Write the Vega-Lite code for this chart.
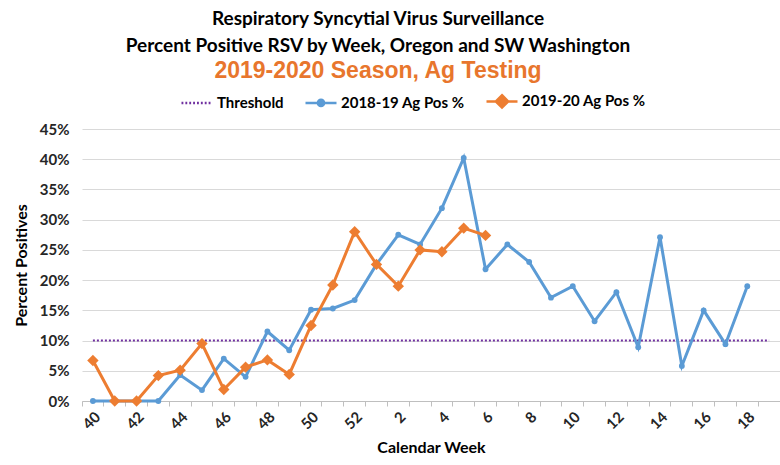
{
  "$schema": "https://vega.github.io/schema/vega-lite/v6.json",
  "autosize": "none",
  "padding": {"left": 82, "top": 129, "right": 0, "bottom": 64},
  "width": 698,
  "height": 272,
  "background": "white",
  "config": {"view": {"stroke": null}},
  "title": {
    "text": ["Respiratory Syncytial Virus Surveillance", "Percent Positive RSV by Week, Oregon and SW Washington"],
    "subtitle": "2019-2020 Season, Ag Testing",
    "anchor": "middle",
    "frame": "group",
    "dx": -53,
    "offset": 1,
    "font": "Lato",
    "fontSize": 19,
    "fontWeight": "bold",
    "color": "#000000",
    "lineHeight": 27,
    "subtitleFont": "Liberation Sans",
    "subtitleFontSize": 23,
    "subtitleFontWeight": "bold",
    "subtitleColor": "#E8762D",
    "subtitlePadding": 4
  },
  "data": {"values": [
    {"week": 40, "series": "Threshold", "pct": 0.10},
    {"week": 41, "series": "Threshold", "pct": 0.10},
    {"week": 42, "series": "Threshold", "pct": 0.10},
    {"week": 43, "series": "Threshold", "pct": 0.10},
    {"week": 44, "series": "Threshold", "pct": 0.10},
    {"week": 45, "series": "Threshold", "pct": 0.10},
    {"week": 46, "series": "Threshold", "pct": 0.10},
    {"week": 47, "series": "Threshold", "pct": 0.10},
    {"week": 48, "series": "Threshold", "pct": 0.10},
    {"week": 49, "series": "Threshold", "pct": 0.10},
    {"week": 50, "series": "Threshold", "pct": 0.10},
    {"week": 51, "series": "Threshold", "pct": 0.10},
    {"week": 52, "series": "Threshold", "pct": 0.10},
    {"week": 1, "series": "Threshold", "pct": 0.10},
    {"week": 2, "series": "Threshold", "pct": 0.10},
    {"week": 3, "series": "Threshold", "pct": 0.10},
    {"week": 4, "series": "Threshold", "pct": 0.10},
    {"week": 5, "series": "Threshold", "pct": 0.10},
    {"week": 6, "series": "Threshold", "pct": 0.10},
    {"week": 7, "series": "Threshold", "pct": 0.10},
    {"week": 8, "series": "Threshold", "pct": 0.10},
    {"week": 9, "series": "Threshold", "pct": 0.10},
    {"week": 10, "series": "Threshold", "pct": 0.10},
    {"week": 11, "series": "Threshold", "pct": 0.10},
    {"week": 12, "series": "Threshold", "pct": 0.10},
    {"week": 13, "series": "Threshold", "pct": 0.10},
    {"week": 14, "series": "Threshold", "pct": 0.10},
    {"week": 15, "series": "Threshold", "pct": 0.10},
    {"week": 16, "series": "Threshold", "pct": 0.10},
    {"week": 17, "series": "Threshold", "pct": 0.10},
    {"week": 18, "series": "Threshold", "pct": 0.10},
    {"week": 19, "series": "Threshold", "pct": 0.10},
    {"week": 40, "series": "2018-19 Ag Pos %", "pct": 0.0},
    {"week": 41, "series": "2018-19 Ag Pos %", "pct": 0.0},
    {"week": 42, "series": "2018-19 Ag Pos %", "pct": 0.0},
    {"week": 43, "series": "2018-19 Ag Pos %", "pct": 0.0},
    {"week": 44, "series": "2018-19 Ag Pos %", "pct": 0.043},
    {"week": 45, "series": "2018-19 Ag Pos %", "pct": 0.018},
    {"week": 46, "series": "2018-19 Ag Pos %", "pct": 0.070},
    {"week": 47, "series": "2018-19 Ag Pos %", "pct": 0.040},
    {"week": 48, "series": "2018-19 Ag Pos %", "pct": 0.115},
    {"week": 49, "series": "2018-19 Ag Pos %", "pct": 0.084},
    {"week": 50, "series": "2018-19 Ag Pos %", "pct": 0.151},
    {"week": 51, "series": "2018-19 Ag Pos %", "pct": 0.153},
    {"week": 52, "series": "2018-19 Ag Pos %", "pct": 0.167},
    {"week": 1, "series": "2018-19 Ag Pos %", "pct": 0.226},
    {"week": 2, "series": "2018-19 Ag Pos %", "pct": 0.275},
    {"week": 3, "series": "2018-19 Ag Pos %", "pct": 0.259},
    {"week": 4, "series": "2018-19 Ag Pos %", "pct": 0.319},
    {"week": 5, "series": "2018-19 Ag Pos %", "pct": 0.402},
    {"week": 6, "series": "2018-19 Ag Pos %", "pct": 0.218},
    {"week": 7, "series": "2018-19 Ag Pos %", "pct": 0.259},
    {"week": 8, "series": "2018-19 Ag Pos %", "pct": 0.230},
    {"week": 9, "series": "2018-19 Ag Pos %", "pct": 0.171},
    {"week": 10, "series": "2018-19 Ag Pos %", "pct": 0.190},
    {"week": 11, "series": "2018-19 Ag Pos %", "pct": 0.132},
    {"week": 12, "series": "2018-19 Ag Pos %", "pct": 0.180},
    {"week": 13, "series": "2018-19 Ag Pos %", "pct": 0.089},
    {"week": 14, "series": "2018-19 Ag Pos %", "pct": 0.271},
    {"week": 15, "series": "2018-19 Ag Pos %", "pct": 0.058},
    {"week": 16, "series": "2018-19 Ag Pos %", "pct": 0.150},
    {"week": 17, "series": "2018-19 Ag Pos %", "pct": 0.094},
    {"week": 18, "series": "2018-19 Ag Pos %", "pct": 0.190},
    {"week": 40, "series": "2019-20 Ag Pos %", "pct": 0.067},
    {"week": 41, "series": "2019-20 Ag Pos %", "pct": 0.0},
    {"week": 42, "series": "2019-20 Ag Pos %", "pct": 0.0},
    {"week": 43, "series": "2019-20 Ag Pos %", "pct": 0.042},
    {"week": 44, "series": "2019-20 Ag Pos %", "pct": 0.051},
    {"week": 45, "series": "2019-20 Ag Pos %", "pct": 0.095},
    {"week": 46, "series": "2019-20 Ag Pos %", "pct": 0.019},
    {"week": 47, "series": "2019-20 Ag Pos %", "pct": 0.056},
    {"week": 48, "series": "2019-20 Ag Pos %", "pct": 0.068},
    {"week": 49, "series": "2019-20 Ag Pos %", "pct": 0.044},
    {"week": 50, "series": "2019-20 Ag Pos %", "pct": 0.125},
    {"week": 51, "series": "2019-20 Ag Pos %", "pct": 0.192},
    {"week": 52, "series": "2019-20 Ag Pos %", "pct": 0.280},
    {"week": 1, "series": "2019-20 Ag Pos %", "pct": 0.226},
    {"week": 2, "series": "2019-20 Ag Pos %", "pct": 0.190},
    {"week": 3, "series": "2019-20 Ag Pos %", "pct": 0.250},
    {"week": 4, "series": "2019-20 Ag Pos %", "pct": 0.247},
    {"week": 5, "series": "2019-20 Ag Pos %", "pct": 0.286},
    {"week": 6, "series": "2019-20 Ag Pos %", "pct": 0.274}
  ]},
  "encoding": {
    "y": {
      "field": "pct", "type": "quantitative",
      "scale": {"domain": [0, 0.45], "nice": false, "zero": true},
      "axis": {
        "title": "Percent Positives", "values": [0,0.05,0.1,0.15,0.2,0.25,0.3,0.35,0.4,0.45], "format": ".0%",
        "labelOverlap": false,
        "grid": true, "gridColor": "#D9D9D9", "ticks": false, "domain": false,
        "labelFont": "Lato", "labelFontSize": 15, "labelFontWeight": "bold", "labelColor": "#262626", "labelPadding": 13,
        "titleFont": "Lato", "titleFontSize": 16, "titleFontWeight": "bold", "titleColor": "#000000", "titlePadding": 10
      }
    }
  },
  "layer": [
    {
      "transform": [{"filter": "datum.series == 'Threshold'"}],
      "mark": {"type": "line", "color": "#7030A0", "strokeWidth": 2, "strokeDash": [2, 2]},
      "encoding": {
        "x": {
          "field": "week", "type": "nominal",
          "scale": {"type": "band", "domain": [40,41,42,43,44,45,46,47,48,49,50,51,52,1,2,3,4,5,6,7,8,9,10,11,12,13,14,15,16,17,18,19], "paddingInner": 0, "paddingOuter": 0},
          "axis": {"orient": "bottom", "title": null, "labels": false, "ticks": true, "tickSize": 5, "tickColor": "#BFBFBF", "tickWidth": 1, "bandPosition": 0, "domain": true, "domainColor": "#BFBFBF", "domainWidth": 1, "grid": false}
        }
      }
    },
    {
      "transform": [{"filter": "datum.series == '2018-19 Ag Pos %'"}],
      "mark": {"type": "line", "color": "#5B9BD5", "strokeWidth": 3, "point": {"filled": true, "size": 34, "color": "#5B9BD5", "opacity": 1}},
      "encoding": {
        "x": {
          "field": "week", "type": "nominal",
          "scale": {"type": "band", "domain": [40,41,42,43,44,45,46,47,48,49,50,51,52,1,2,3,4,5,6,7,8,9,10,11,12,13,14,15,16,17,18,19], "paddingInner": 0, "paddingOuter": 0},
          "axis": {"orient": "bottom", "title": "Calendar Week", "ticks": false, "domain": false, "grid": false, "labelAngle": -45,
            "labelExpr": "datum.value % 2 == 0 ? datum.label : ''",
            "labelFont": "Lato", "labelFontSize": 15, "labelFontWeight": "bold", "labelColor": "#262626", "labelPadding": 8,
            "titleFont": "Lato", "titleFontSize": 16, "titleFontWeight": "bold", "titleColor": "#000000", "titlePadding": 8}
        }
      }
    },
    {
      "transform": [{"filter": "datum.series == '2019-20 Ag Pos %'"}],
      "mark": {"type": "line", "color": "#ED7D31", "strokeWidth": 3, "point": {"filled": true, "shape": "diamond", "size": 130, "color": "#ED7D31", "opacity": 1}},
      "encoding": {
        "x": {"field": "week", "type": "nominal", "axis": null}
      }
    },
    {
      "transform": [{"filter": "false"}],
      "mark": {"type": "point", "filled": true, "opacity": 1},
      "encoding": {
        "fill": {"field": "series", "type": "nominal",
          "scale": {"domain": ["Threshold", "2018-19 Ag Pos %", "2019-20 Ag Pos %"], "range": ["#7030A0", "#5B9BD5", "#ED7D31"]},
          "legend": {"orient": "none", "legendX": 98, "legendY": -45, "direction": "horizontal", "title": null, "symbolSize": 961, "symbolStrokeWidth": 2.5, "symbolOpacity": 1, "labelFont": "Lato", "labelFontSize": 15, "labelFontWeight": "bold", "labelColor": "#000000", "columnPadding": 16, "labelOffset": 3}},
        "stroke": {"field": "series", "type": "nominal",
          "scale": {"domain": ["Threshold", "2018-19 Ag Pos %", "2019-20 Ag Pos %"], "range": ["#7030A0", "#5B9BD5", "#ED7D31"]},
          "legend": {"orient": "none", "legendX": 98, "legendY": -45, "direction": "horizontal", "title": null, "symbolSize": 961, "symbolStrokeWidth": 2.5, "symbolOpacity": 1, "labelFont": "Lato", "labelFontSize": 15, "labelFontWeight": "bold", "labelColor": "#000000", "columnPadding": 16, "labelOffset": 3}},
        "shape": {"field": "series", "type": "nominal",
          "scale": {"domain": ["Threshold", "2018-19 Ag Pos %", "2019-20 Ag Pos %"], "range": [
            "M-1,0H-0.88M-0.75,0H-0.63M-0.5,0H-0.38M-0.25,0H-0.13M0,0H0.12M0.25,0H0.37M0.5,0H0.62M0.75,0H0.87",
            "M-1,0H1M0.2,0A0.2,0.2 0 1 1 -0.2,0A0.2,0.2 0 1 1 0.2,0Z",
            "M-1,0H1M0,-0.4L0.4,0L0,0.4L-0.4,0Z"]},
          "legend": {"orient": "none", "legendX": 98, "legendY": -45, "direction": "horizontal", "title": null, "symbolSize": 961, "symbolStrokeWidth": 2.5, "symbolOpacity": 1, "labelFont": "Lato", "labelFontSize": 15, "labelFontWeight": "bold", "labelColor": "#000000", "columnPadding": 16, "labelOffset": 3}}
      }
    }
  ],
  "resolve": {"axis": {"x": "independent"}}
}
